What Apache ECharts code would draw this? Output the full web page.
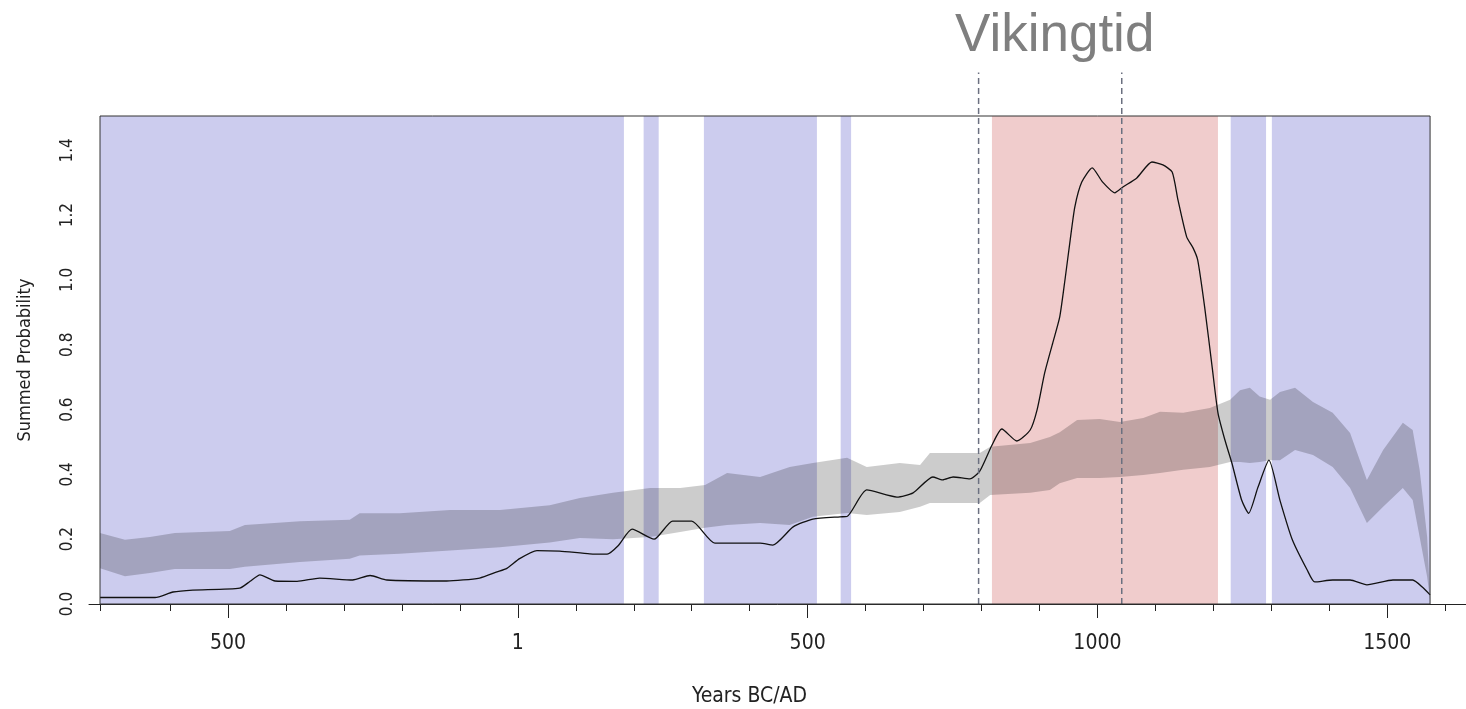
<!DOCTYPE html>
<html lang="no">
  <head>
    <meta charset="UTF-8" />
    <title>Vikingtid summed probability</title>
    <script src="https://cdn.jsdelivr.net/npm/echarts@6/dist/echarts.min.js"></script>
    <style>
      html, body { margin: 0; padding: 0; background: #fff; }
      #chart { width: 1466px; height: 709px; }
    </style>
  </head>
  <body>
    <div id="chart"></div>
    <script>
      // summed probability curve (years BC/AD, BC negative)
      var spdYears = [-721, -626, -595, -561, -480, -462, -445, -419, -381, -342, -285, -255, -226, -123, -66, -36, -19, 3, 33, 72, 124, 154, 173, 197, 235, 267, 300, 340, 418, 440, 475, 509, 556, 568, 602, 654, 682, 716, 733, 751, 780, 797, 818, 835, 861, 884, 896, 909, 923, 935, 944, 953, 961, 973, 991, 1009, 1030, 1044, 1068, 1094, 1113, 1129, 1139, 1154, 1165, 1173, 1185, 1198, 1208, 1220, 1232, 1249, 1261, 1277, 1296, 1315, 1336, 1362, 1375, 1406, 1436, 1465, 1510, 1544, 1562, 1574];
      var spdValues = [0.02, 0.02, 0.037, 0.043, 0.049, 0.07, 0.09, 0.071, 0.07, 0.08, 0.074, 0.088, 0.074, 0.071, 0.08, 0.099, 0.11, 0.14, 0.165, 0.163, 0.155, 0.154, 0.18, 0.231, 0.2, 0.256, 0.256, 0.188, 0.188, 0.182, 0.238, 0.262, 0.269, 0.27, 0.352, 0.33, 0.343, 0.392, 0.383, 0.392, 0.386, 0.41, 0.49, 0.54, 0.503, 0.537, 0.6, 0.713, 0.806, 0.886, 1.0, 1.123, 1.225, 1.302, 1.346, 1.302, 1.269, 1.287, 1.315, 1.364, 1.355, 1.333, 1.247, 1.133, 1.099, 1.062, 0.917, 0.731, 0.59, 0.506, 0.435, 0.32, 0.28, 0.36, 0.444, 0.32, 0.2, 0.105, 0.068, 0.074, 0.074, 0.059, 0.074, 0.074, 0.05, 0.028];

      // simulation envelope
      var envYears = [-721, -678, -635, -592, -497, -471, -376, -290, -273, -204, -117, -31, 55, 107, 164, 228, 280, 323, 361, 418, 469, 509, 568, 602, 659, 694, 711, 797, 815, 884, 918, 935, 965, 1004, 1039, 1079, 1108, 1148, 1194, 1229, 1246, 1263, 1280, 1298, 1315, 1341, 1372, 1406, 1436, 1465, 1493, 1527, 1544, 1556, 1569, 1574];
      var envLower = [0.11, 0.086, 0.096, 0.108, 0.108, 0.115, 0.13, 0.14, 0.15, 0.155, 0.165, 0.175, 0.19, 0.204, 0.2, 0.207, 0.222, 0.235, 0.244, 0.25, 0.244, 0.269, 0.281, 0.275, 0.284, 0.3, 0.312, 0.312, 0.336, 0.343, 0.352, 0.373, 0.389, 0.389, 0.392, 0.398, 0.404, 0.414, 0.423, 0.438, 0.438, 0.435, 0.438, 0.444, 0.444, 0.475, 0.46, 0.423, 0.358, 0.25, 0.3, 0.358, 0.321, 0.207, 0.083, 0.01];
      var envUpper = [0.219, 0.198, 0.207, 0.219, 0.225, 0.244, 0.255, 0.26, 0.28, 0.28, 0.29, 0.29, 0.305, 0.327, 0.343, 0.358, 0.358, 0.367, 0.404, 0.392, 0.423, 0.435, 0.451, 0.423, 0.435, 0.429, 0.466, 0.466, 0.485, 0.497, 0.515, 0.53, 0.568, 0.571, 0.562, 0.574, 0.593, 0.59, 0.605, 0.63, 0.66, 0.667, 0.64, 0.63, 0.654, 0.667, 0.623, 0.59, 0.528, 0.383, 0.475, 0.559, 0.537, 0.414, 0.207, 0.02];

      // shaded periods
      var bluePeriods = [[-721, 183], [217, 243], [321, 516], [557, 575], [1230, 1291], [1301, 1574]];
      var redPeriods = [[818, 1208]];
      var vikingLines = [795, 1042];

      // axis ticks
      var xMajorTicks = [-500, 0, 500, 1000, 1500];
      var xMajorLabels = ['500', '1', '500', '1000', '1500'];
      var xMinorTicks = [-721, -600, -400, -300, -200, -100, 100, 200, 300, 400, 600, 700, 800, 900, 1100, 1200, 1300, 1400, 1600];
      var yTicks = [0, 0.2, 0.4, 0.6, 0.8, 1.0, 1.2, 1.4];

      var plotFrom = -721;
      var plotTo = 1574;
      var yTop = 1.506;
      var dashTop = 1.64;
      var axisFont = '"Liberation Sans Narrow", "DejaVu Sans Condensed", "Liberation Sans", sans-serif';

      var chart = echarts.init(document.getElementById('chart'));

      var zip = function (xs, ys) {
        return xs.map(function (x, i) { return [x, ys[i]]; });
      };

      var shadeAreas = [];
      bluePeriods.forEach(function (p) {
        shadeAreas.push([{ xAxis: p[0], itemStyle: { color: '#CCCCEE' } }, { xAxis: p[1] }]);
      });
      redPeriods.forEach(function (p) {
        shadeAreas.push([{ xAxis: p[0], itemStyle: { color: '#F0CCCC' } }, { xAxis: p[1] }]);
      });

      // envelope drawn as one polygon: upper edge forward, lower edge back
      var renderEnvelope = function (params, api) {
        if (params.dataIndex !== 0) return;
        var pts = [];
        for (var i = 0; i < envYears.length; i++) {
          pts.push(api.coord([envYears[i], envUpper[i]]));
        }
        for (var j = envYears.length - 1; j >= 0; j--) {
          pts.push(api.coord([envYears[j], envLower[j]]));
        }
        return {
          type: 'polygon',
          shape: { points: pts },
          style: { fill: 'rgba(0,0,0,0.2)' }
        };
      };

      // dashed period lines run a bit above the plot box
      var renderDash = function (params, api) {
        var p0 = api.coord([api.value(0), 0]);
        var p1 = api.coord([api.value(0), dashTop]);
        return {
          type: 'line',
          shape: { x1: p0[0], y1: p0[1], x2: p1[0], y2: p1[1] },
          style: { stroke: '#6b7080', lineWidth: 1.5, lineDash: [6, 4] }
        };
      };

      var option = {
        animation: false,
        title: {
          text: 'Vikingtid',
          left: 950,
          top: 5,
          textStyle: {
            fontFamily: '"Liberation Sans", Arial, sans-serif',
            fontSize: 53,
            fontWeight: 'normal',
            color: '#7f7f7f'
          }
        },
        grid: {
          left: 89,
          right: 0,
          top: 116,
          bottom: 105,
          outerBoundsMode: 'none'
        },
        xAxis: [
          {
            type: 'value',
            min: -740,
            max: 1636,
            splitLine: { show: false },
            axisLine: { lineStyle: { color: '#222', width: 1 } },
            axisTick: { customValues: xMajorTicks, length: 14, lineStyle: { color: '#222' } },
            axisLabel: {
              customValues: xMajorTicks,
              margin: 29,
              fontFamily: axisFont,
              fontSize: 21,
              color: '#222',
              formatter: function (v) {
                var i = xMajorTicks.indexOf(v);
                return i >= 0 ? xMajorLabels[i] : '';
              }
            },
            name: 'Years BC/AD',
            nameLocation: 'middle',
            nameGap: 82,
            nameTextStyle: { fontFamily: axisFont, fontSize: 21, color: '#222', padding: [0, 56, 0, 0] }
          },
          {
            type: 'value',
            min: -740,
            max: 1636,
            position: 'bottom',
            splitLine: { show: false },
            axisLine: { show: false },
            axisTick: { customValues: xMinorTicks, length: 7, lineStyle: { color: '#222' } },
            axisLabel: { show: false }
          }
        ],
        yAxis: {
          type: 'value',
          min: 0,
          max: yTop,
          offset: -11,
          splitLine: { show: false },
          axisLine: { show: false },
          axisTick: { show: true, customValues: yTicks, length: 11, lineStyle: { color: '#222' } },
          axisLabel: {
            customValues: yTicks,
            rotate: 90,
            margin: 24,
            fontFamily: axisFont,
            fontSize: 17,
            color: '#222',
            formatter: function (v) { return v.toFixed(1); }
          },
          name: 'Summed Probability',
          nameLocation: 'middle',
          nameRotate: 90,
          nameGap: 66,
          nameTextStyle: { fontFamily: axisFont, fontSize: 18, color: '#222' }
        },
        series: [
          {
            name: 'envelope',
            type: 'custom',
            silent: true,
            z: 2,
            renderItem: renderEnvelope,
            encode: { x: 0, y: [1, 2] },
            data: envYears.map(function (x, i) { return [x, envLower[i], envUpper[i]]; }),
            markArea: {
              silent: true,
              data: shadeAreas
            }
          },
          {
            name: 'SPD',
            type: 'line',
            symbol: 'none',
            smooth: 0.2,
            z: 4,
            lineStyle: { color: '#111', width: 1.3 },
            data: zip(spdYears, spdValues),
            markArea: {
              silent: true,
              z: 6,
              itemStyle: { color: 'rgba(0,0,0,0)', borderColor: '#333', borderWidth: 1 },
              data: [[{ coord: [plotFrom, 0] }, { coord: [plotTo, yTop] }]]
            }
          },
          {
            name: 'viking',
            type: 'custom',
            silent: true,
            clip: false,
            z: 5,
            renderItem: renderDash,
            encode: { x: 0, y: 1 },
            data: vikingLines.map(function (x) { return [x, 0]; })
          }
        ]
      };

      chart.setOption(option);
    </script>
  </body>
</html>
